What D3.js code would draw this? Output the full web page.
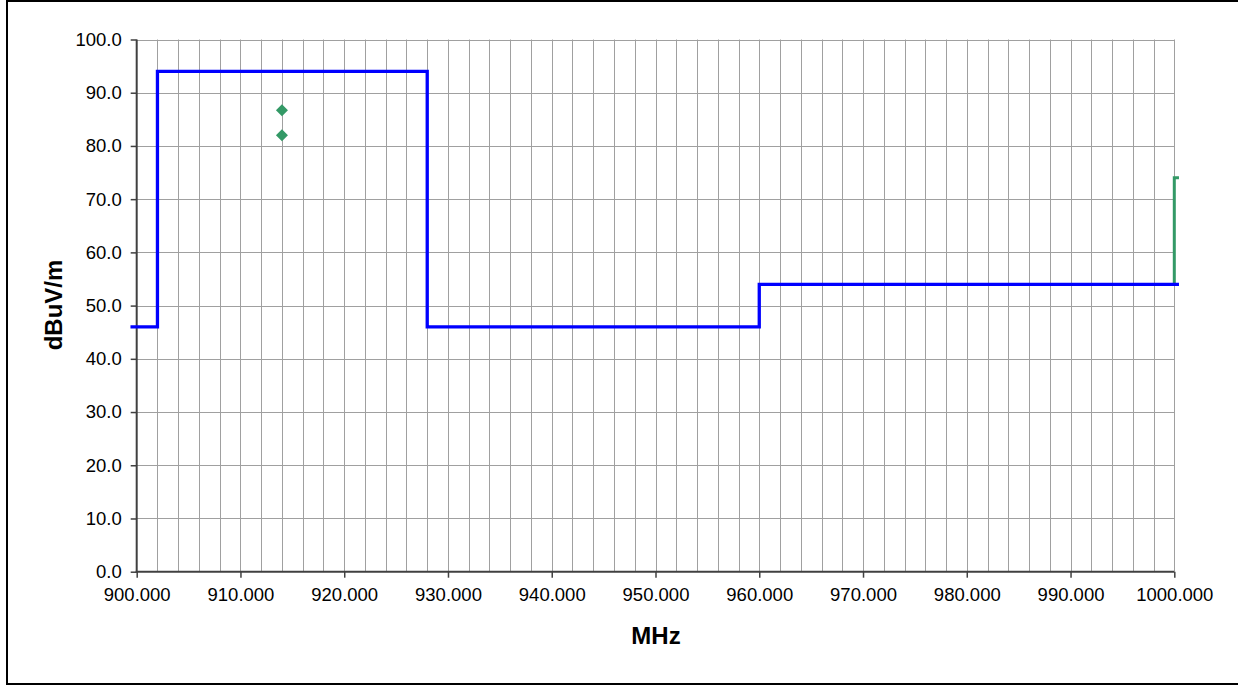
<!DOCTYPE html>
<html>
<head>
<meta charset="utf-8">
<script src="https://cdn.jsdelivr.net/npm/d3@7"></script>
<style>
  html, body { margin: 0; padding: 0; background: #fff; }
  svg { display: block; }
  text { font-family: "Liberation Sans", Arial, sans-serif; }
</style>
</head>
<body>
<svg id="chart" width="1238" height="685"></svg>
<script>
// ---- data ----
const xTicks = [900, 910, 920, 930, 940, 950, 960, 970, 980, 990, 1000];
const yTicks = [0, 10, 20, 30, 40, 50, 60, 70, 80, 90, 100];
// limit line (blue) step points [MHz, dBuV/m]
const limitFreq  = [899.4, 902, 902, 928, 928, 960, 960, 1000.45];
const limitLevel = [46,    46,  94,  94,  46,  46,  54,  54];
// second trace (green) at band edge
const traceFreq  = [1000, 1000, 1000.45];
const traceLevel = [54,   74,   74];
// measured points (green diamonds)
const markFreq  = [914, 914];
const markLevel = [86.7, 82.0];
const xTitle = "MHz";
const yTitle = "dBuV/m";

// ---- layout ----
const svg = d3.select("#chart");
const x = d3.scaleLinear().domain([900, 1000]).range([136.7, 1174.3]);
const y = d3.scaleLinear().domain([0, 100]).range([571.7, 39.5]);

// outer border
svg.append("rect").attr("x", 7).attr("y", 1).attr("width", 1260).attr("height", 683)
  .attr("fill", "none").attr("stroke", "#000").attr("stroke-width", 2);

// gridlines
const gridX = d3.range(902, 1000.5, 2);
svg.append("g").selectAll("line").data(gridX).join("line")
  .attr("x1", d => Math.round(x(d)) + 0.5).attr("x2", d => Math.round(x(d)) + 0.5)
  .attr("y1", y(0)).attr("y2", y(100))
  .attr("stroke", "#a0a0a0").attr("stroke-width", 1);
svg.append("g").selectAll("line").data(yTicks.filter(d => d > 0)).join("line")
  .attr("x1", x(900)).attr("x2", x(1000))
  .attr("y1", d => Math.round(y(d)) + 0.5).attr("y2", d => Math.round(y(d)) + 0.5)
  .attr("stroke", "#a0a0a0").attr("stroke-width", 1);

// axes
const yAxis = d3.axisLeft(y).tickValues(yTicks).tickSize(6).tickPadding(9)
  .tickFormat(d3.format(".1f"));
const gy = svg.append("g").attr("transform", `translate(${x(900)},0)`).call(yAxis);
gy.select(".domain").attr("stroke", "#404040").attr("stroke-width", 2)
  .attr("d", `M0,${y(100)}V${y(0) + 1}`);
gy.selectAll(".tick line").attr("stroke", "#404040").attr("stroke-width", 1.5);
gy.selectAll(".tick text").attr("font-size", 18.5).attr("fill", "#000")
  .attr("font-family", "Liberation Sans, Arial, sans-serif");

const xAxis = d3.axisBottom(x).tickValues(xTicks).tickSize(6).tickPadding(10)
  .tickFormat(d3.format(".3f"));
const gx = svg.append("g").attr("transform", `translate(0,${y(0)})`).call(xAxis);
gx.select(".domain").attr("stroke", "#404040").attr("stroke-width", 2)
  .attr("d", `M${x(900) - 1},0H${x(1000)}`);
gx.selectAll(".tick line").attr("stroke", "#404040").attr("stroke-width", 1.5);
gx.selectAll(".tick text").attr("font-size", 18.5).attr("fill", "#000")
  .attr("font-family", "Liberation Sans, Arial, sans-serif");

// series
const line = d3.line().x(d => x(d[0])).y(d => y(d[1]));
svg.append("path").datum(traceFreq.map((f, i) => [f, traceLevel[i]]))
  .attr("d", line).attr("fill", "none").attr("stroke", "#339966").attr("stroke-width", 3);
svg.append("path").datum(limitFreq.map((f, i) => [f, limitLevel[i]]))
  .attr("d", line).attr("fill", "none").attr("stroke", "#0000ff").attr("stroke-width", 3.3);

svg.append("g").selectAll("path").data(markFreq.map((f, i) => [f, markLevel[i]])).join("path")
  .attr("transform", d => `translate(${x(d[0])},${y(d[1])}) rotate(45)`)
  .attr("d", d3.symbol().type(d3.symbolSquare).size(72))
  .attr("fill", "#339966");

// titles
svg.append("text").attr("x", 656).attr("y", 644).attr("text-anchor", "middle")
  .attr("font-size", 24).attr("font-weight", "bold").text(xTitle);
svg.append("text").attr("transform", "translate(62,305) rotate(-90)").attr("text-anchor", "middle")
  .attr("font-size", 24).attr("font-weight", "bold").text(yTitle);
</script>
</body>
</html>
